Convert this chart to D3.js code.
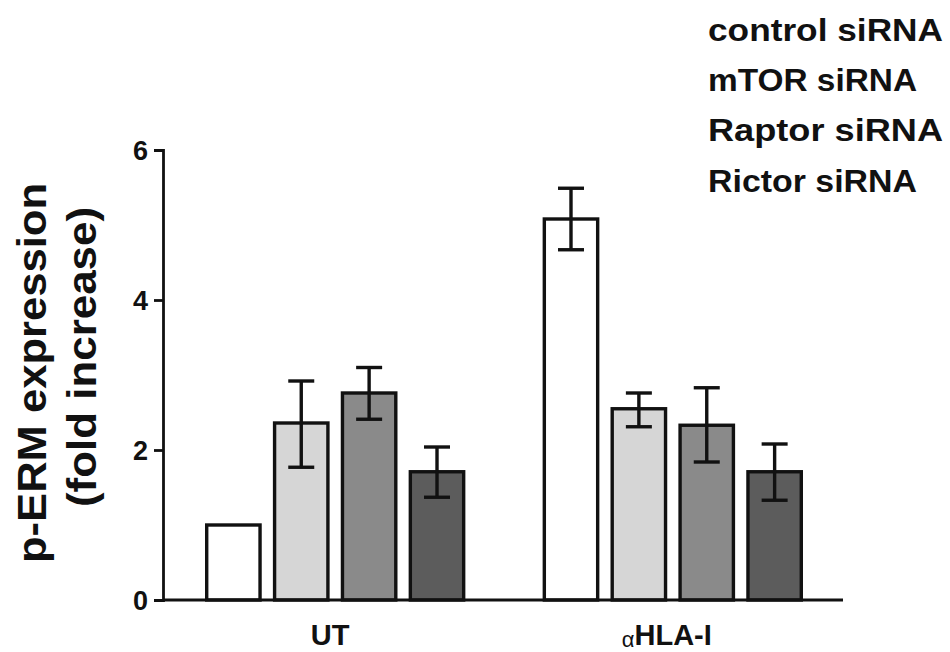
<!DOCTYPE html>
<html>
<head>
<meta charset="utf-8">
<script src="https://cdn.jsdelivr.net/npm/d3@7"></script>
<style>
  body { margin: 0; background: #fff; }
  svg { display: block; }
  text { font-family: "Liberation Sans", Arial, Helvetica, sans-serif; font-weight: bold; fill: #111; }
</style>
</head>
<body>
<svg id="chart" width="950" height="652"></svg>
<script>
const groups = ["UT", "αHLA-I"];
const seriesNames = ["control siRNA", "mTOR siRNA", "Raptor siRNA", "Rictor siRNA"];
const seriesFill = ["#ffffff", "#d6d6d6", "#8a8a8a", "#5c5c5c"];
// mean values per group, one per series
const meanUT = [1.0, 2.36, 2.76, 1.71];
const meanHLA = [5.08, 2.55, 2.33, 1.71];
// error bar ends (upper, lower)
const errUpUT = [null, 2.92, 3.10, 2.04];
const errLoUT = [null, 1.77, 2.41, 1.37];
const errUpHLA = [5.49, 2.76, 2.83, 2.08];
const errLoHLA = [4.67, 2.31, 1.84, 1.33];
const yTicks = [0, 2, 4, 6];

const means = [meanUT, meanHLA];
const ups = [errUpUT, errUpHLA];
const los = [errLoUT, errLoHLA];

const svg = d3.select("#chart");

const y = d3.scaleLinear().domain([0, 6]).range([600, 150]);
const x0 = d3.scaleBand().domain(groups).range([163, 845]).paddingInner(0.23).paddingOuter(0.125);
const x1 = d3.scaleBand().domain(seriesNames).range([0, x0.bandwidth()]).paddingInner(0.17).paddingOuter(0);

const data = [];
groups.forEach((g, gi) => {
  seriesNames.forEach((s, si) => {
    data.push({g, s, si, v: means[gi][si], up: ups[gi][si], lo: los[gi][si]});
  });
});

// bars
svg.append("g").selectAll("rect").data(data).join("rect")
  .attr("x", d => x0(d.g) + x1(d.s) + 1.5)
  .attr("width", x1.bandwidth() - 3)
  .attr("y", d => y(d.v))
  .attr("height", d => y(0) - y(d.v))
  .attr("fill", d => seriesFill[d.si])
  .attr("stroke", "#111")
  .attr("stroke-width", 3.4);

// error bars
const errG = svg.append("g").attr("stroke", "#111").attr("stroke-width", 3.4);
const capHalf = 13;
data.filter(d => d.up != null).forEach(d => {
  const cx = x0(d.g) + x1(d.s) + x1.bandwidth() / 2;
  errG.append("line").attr("x1", cx).attr("x2", cx).attr("y1", y(d.up)).attr("y2", y(d.lo));
  errG.append("line").attr("x1", cx - capHalf).attr("x2", cx + capHalf).attr("y1", y(d.up)).attr("y2", y(d.up));
  errG.append("line").attr("x1", cx - capHalf).attr("x2", cx + capHalf).attr("y1", y(d.lo)).attr("y2", y(d.lo));
});

// y axis
const yAxis = svg.append("g").attr("transform", "translate(163,0)")
  .call(d3.axisLeft(y).tickValues(yTicks).tickSize(9).tickPadding(6).tickFormat(d3.format("d")));
yAxis.select(".domain").attr("stroke", "#111").attr("stroke-width", 2.8);
yAxis.selectAll(".tick line").attr("stroke", "#111").attr("stroke-width", 2.8);
yAxis.selectAll(".tick text").attr("font-size", 27).attr("font-family", "Liberation Sans, Arial, sans-serif")
  .attr("font-weight", "bold").attr("fill", "#111").attr("dy", "0.36em");

// x axis
const xAxis = svg.append("g").attr("transform", "translate(0,600)")
  .call(d3.axisBottom(x0).tickSize(0).tickFormat(""));
xAxis.select(".domain").attr("stroke", "#111").attr("stroke-width", 2.8).attr("d", "M163,0H843");

// x labels
svg.append("text").attr("x", x0("UT") + x0.bandwidth() / 2 - 5).attr("y", 645)
  .attr("text-anchor", "middle").attr("font-size", 29).text("UT");
const hl = svg.append("text").attr("x", x0("αHLA-I") + x0.bandwidth() / 2 - 6).attr("y", 645)
  .attr("text-anchor", "middle").attr("font-size", 29);
hl.append("tspan").attr("font-size", 22).attr("font-weight", "normal").attr("dy", 2).text("α");
hl.append("tspan").attr("dy", -2).text("HLA-I");

// y axis title
svg.append("text").attr("transform", "translate(46,373) rotate(-90)")
  .attr("text-anchor", "middle").attr("font-size", 40)
  .attr("textLength", 380).attr("lengthAdjust", "spacingAndGlyphs")
  .text("p-ERM expression");
svg.append("text").attr("transform", "translate(96,357) rotate(-90)")
  .attr("text-anchor", "middle").attr("font-size", 40)
  .attr("textLength", 300).attr("lengthAdjust", "spacingAndGlyphs")
  .text("(fold increase)");

// legend (text only)
const legendY = [41, 91, 141, 192];
const legendW = [235, 209, 235, 209];
svg.append("g").selectAll("text").data(seriesNames).join("text")
  .attr("x", 708).attr("y", (d, i) => legendY[i])
  .attr("font-size", 31)
  .attr("textLength", (d, i) => legendW[i]).attr("lengthAdjust", "spacingAndGlyphs")
  .text(d => d);
</script>
</body>
</html>
